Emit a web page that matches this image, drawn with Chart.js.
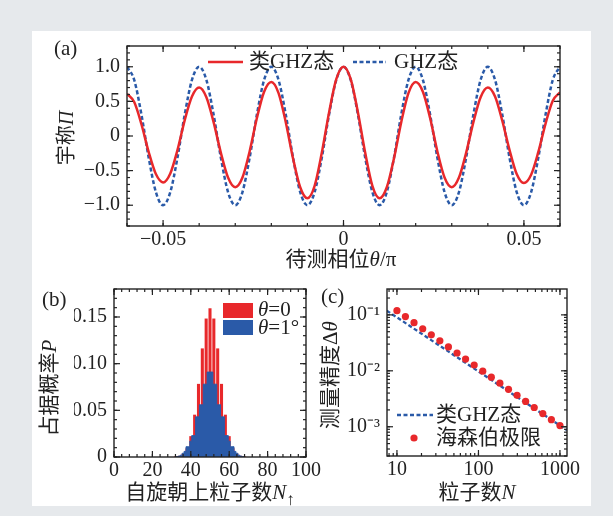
<!DOCTYPE html>
<html lang="zh">
<head>
<meta charset="UTF-8">
<title>宇称 / 占据概率 / 测量精度</title>
<script src="https://cdn.jsdelivr.net/npm/chart.js"></script>
<style>
  body { margin: 0; background: #e6e9ec; }
  .page { position: relative; width: 613px; height: 516px; background: #e6e9ec; overflow: hidden; }
  .panel { position: absolute; left: 32px; top: 31px; width: 559px; height: 475px; background: #fff; }
  canvas { position: absolute; left: 0; top: 0; }
</style>
</head>
<body>
<div class="page">
  <div class="panel"></div>
  <canvas id="chartA" width="613" height="516"></canvas>
  <canvas id="chartB" width="613" height="516"></canvas>
  <canvas id="chartC" width="613" height="516"></canvas>
</div>
<script>
// ---- (a) parity vs phase ----
const theta = [
  -0.060, -0.058, -0.056, -0.054, -0.052, -0.050, -0.048, -0.046, -0.044, -0.042,
  -0.040, -0.038, -0.036, -0.034, -0.032, -0.030, -0.028, -0.026, -0.024, -0.022,
  -0.020, -0.018, -0.016, -0.014, -0.012, -0.010, -0.008, -0.006, -0.004, -0.002,
   0.000,  0.002,  0.004,  0.006,  0.008,  0.010,  0.012,  0.014,  0.016,  0.018,
   0.020,  0.022,  0.024,  0.026,  0.028,  0.030,  0.032,  0.034,  0.036,  0.038,
   0.040,  0.042,  0.044,  0.046,  0.048,  0.050,  0.052,  0.054,  0.056,  0.058, 0.060];
const parityGhzLike = [
  0.61, 0.49, 0.17, -0.23, -0.55, -0.67, -0.54, -0.20, 0.23, 0.57,
  0.70, 0.56, 0.20, -0.24, -0.60, -0.74, -0.60, -0.22, 0.26, 0.64,
  0.78, 0.62, 0.20, -0.32, -0.74, -0.90, -0.72, -0.24, 0.34, 0.82,
  1.00, 0.82, 0.34, -0.24, -0.72, -0.90, -0.74, -0.32, 0.20, 0.62,
  0.78, 0.64, 0.26, -0.22, -0.60, -0.74, -0.60, -0.24, 0.20, 0.56,
  0.70, 0.57, 0.22, -0.20, -0.55, -0.68, -0.56, -0.23, 0.18, 0.51, 0.63];
const parityGhz = [
  1, 0.81, 0.31, -0.31, -0.81, -1, -0.81, -0.31, 0.31, 0.81,
  1, 0.81, 0.31, -0.31, -0.81, -1, -0.81, -0.31, 0.31, 0.81,
  1, 0.81, 0.31, -0.31, -0.81, -1, -0.81, -0.31, 0.31, 0.81,
  1, 0.81, 0.31, -0.31, -0.81, -1, -0.81, -0.31, 0.31, 0.81,
  1, 0.81, 0.31, -0.31, -0.81, -1, -0.81, -0.31, 0.31, 0.81,
  1, 0.81, 0.31, -0.31, -0.81, -1, -0.81, -0.31, 0.31, 0.81, 1];
const thetaTicks = [-0.05, 0, 0.05];
const parityTicks = [-1, -0.5, 0, 0.5, 1];

// ---- (b) occupation probability ----
const nUp = [32, 33, 34, 35, 36, 37, 38, 39, 40, 41, 42, 43, 44, 45, 46, 47, 48, 49, 50,
             51, 52, 53, 54, 55, 56, 57, 58, 59, 60, 61, 62, 63, 64, 65, 66, 67, 68];
const probTheta0 = [0.0002, 0, 0.0009, 0, 0.0032, 0, 0.009, 0, 0.022, 0, 0.045, 0, 0.078, 0, 0.116, 0, 0.148, 0, 0.159,
                    0, 0.148, 0, 0.116, 0, 0.078, 0, 0.045, 0, 0.022, 0, 0.009, 0, 0.0032, 0, 0.0009, 0, 0.0002];
const probTheta1 = [0, 0.0005, 0.001, 0.002, 0.004, 0.006, 0.011, 0.011, 0.017, 0.023, 0.023, 0.043, 0.043, 0.056, 0.056, 0.078, 0.078, 0.091, 0.091,
                    0.091, 0.078, 0.078, 0.056, 0.056, 0.043, 0.043, 0.023, 0.023, 0.017, 0.011, 0.011, 0.006, 0.004, 0.002, 0.001, 0.0005, 0];
const nUpTicks = [0, 20, 40, 60, 80, 100];
const probTicks = [0, 0.05, 0.10, 0.15];

// ---- (c) precision vs particle number ----
const particleN = [10, 12.7, 16.2, 20.7, 26.4, 33.6, 42.8, 54.6, 69.5, 88.6,
                   112.9, 143.8, 183.3, 233.6, 297.6, 379.3, 483.3, 615.8, 784.8, 1000];
const heisenberg = [0.119, 0.0931, 0.0725, 0.0565, 0.0440, 0.0343, 0.0267, 0.0208, 0.0162, 0.0127,
                    0.00987, 0.00769, 0.00600, 0.00467, 0.00364, 0.00284, 0.00221, 0.00172, 0.00134, 0.00105];
const ghzLikeN = [7.5, 1220];
const ghzLikeDelta = [0.119, 0.00087];
const nTicks = [10, 100, 1000];
const deltaTicks = [0.001, 0.01, 0.1];

const RED = '#e8282b';
const BLUE = '#2a5aa8';
const INK = '#222';
const SERIF = '"Liberation Serif", "Noto Sans CJK SC", serif';

Chart.defaults.font.family = SERIF;
Chart.defaults.color = INK;

function xy(xs, ys) { return xs.map((x, i) => ({ x: x, y: ys[i] })); }

// fixed axis sizes so the plot boxes land where they should
function fixW(w) { return s => { s.width = w; s.paddingTop = s.paddingBottom = s.paddingLeft = s.paddingRight = 0; }; }
function fixH(h) { return s => { s.height = h; s.paddingTop = s.paddingBottom = s.paddingLeft = s.paddingRight = 0; }; }
function setTicks(vals) { return s => { s.ticks = vals.map(v => ({ value: v })); }; }

function drawRich(ctx, segs, x, y, size, align, rot) {
  ctx.save();
  ctx.translate(x, y);
  if (rot) ctx.rotate(rot);
  ctx.textBaseline = 'middle';
  ctx.textAlign = 'left';
  ctx.fillStyle = INK;
  const fontOf = s => (s.it ? 'italic ' : '') + Math.round(size * (s.sc || 1)) + 'px ' + SERIF;
  let w = 0;
  segs.forEach(s => { ctx.font = fontOf(s); w += ctx.measureText(s.t).width; });
  let cx = align === 'center' ? -w / 2 : 0;
  segs.forEach(s => {
    ctx.font = fontOf(s);
    ctx.fillText(s.t, cx, s.dy || 0);
    cx += ctx.measureText(s.t).width;
  });
  ctx.restore();
}

function minorLinear(min, max, step) {
  const out = [];
  for (let v = Math.ceil(min / step - 1e-9) * step; v <= max + 1e-9; v += step) out.push(v);
  return out;
}
function minorLog(min, max) {
  const out = [];
  for (let d = Math.floor(Math.log10(min)); d <= Math.ceil(Math.log10(max)); d++) {
    for (let m = 1; m <= 9; m++) {
      const v = m * Math.pow(10, d);
      if (v >= min && v <= max) out.push(v);
    }
  }
  return out;
}

// box + inward ticks on all four sides, then the annotations
function framePlugin(spec) {
  return {
    id: 'frame',
    afterDraw(chart) {
      const ctx = chart.ctx, a = chart.chartArea;
      const sx = chart.scales.x, sy = chart.scales.y;
      ctx.save();
      ctx.strokeStyle = INK;
      ctx.lineWidth = 1.2;
      const seg = (x1, y1, x2, y2) => { ctx.beginPath(); ctx.moveTo(x1, y1); ctx.lineTo(x2, y2); ctx.stroke(); };
      const tx = (vals, len) => vals.forEach(v => {
        const p = sx.getPixelForValue(v);
        if (p < a.left - 0.5 || p > a.right + 0.5) return;
        seg(p, a.bottom, p, a.bottom - len); seg(p, a.top, p, a.top + len);
      });
      const ty = (vals, len) => vals.forEach(v => {
        const p = sy.getPixelForValue(v);
        if (p < a.top - 0.5 || p > a.bottom + 0.5) return;
        seg(a.left, p, a.left + len, p); seg(a.right, p, a.right - len, p);
      });
      tx(spec.xMinor, 3); tx(spec.xMajor, 6);
      ty(spec.yMinor, 3); ty(spec.yMajor, 6);
      ctx.lineWidth = 1.4;
      ctx.strokeRect(a.left, a.top, a.right - a.left, a.bottom - a.top);
      ctx.restore();
      spec.extra(ctx);
    }
  };
}

const baseOpts = {
  responsive: false,
  animation: false,
  events: [],
  plugins: { legend: { display: false }, tooltip: { enabled: false } }
};
const tickFont = { family: SERIF, size: 20 };

// ---------- (a) ----------
new Chart(document.getElementById('chartA'), {
  type: 'line',
  data: {
    datasets: [
      { label: 'GHZ态', data: xy(theta, parityGhz), borderColor: BLUE, borderWidth: 2.5,
        borderDash: [4, 2.5], pointRadius: 0, cubicInterpolationMode: 'monotone', order: 1 },
      { label: '类GHZ态', data: xy(theta, parityGhzLike), borderColor: RED, borderWidth: 2.5,
        pointRadius: 0, cubicInterpolationMode: 'monotone', order: 0 }
    ]
  },
  options: Object.assign({}, baseOpts, {
    layout: { padding: { left: 67, top: 46, right: 53, bottom: 250 } },
    scales: {
      x: { type: 'linear', min: -0.06, max: 0.06, afterFit: fixH(40), afterBuildTicks: setTicks(thetaTicks),
           grid: { display: false, drawTicks: false }, border: { display: false },
           ticks: { font: tickFont, padding: 2, autoSkip: false, maxRotation: 0,
                    callback: v => v === 0 ? '0' : (v < 0 ? '−' : '') + Math.abs(v).toFixed(2) } },
      y: { type: 'linear', min: -1.3, max: 1.3, afterFit: fixW(60), afterBuildTicks: setTicks(parityTicks),
           grid: { display: false, drawTicks: false }, border: { display: false },
           ticks: { font: tickFont, padding: 7, autoSkip: false,
                    callback: v => v === 0 ? '0' : (v < 0 ? '−' : '') + Math.abs(v).toFixed(1) } }
    }
  }),
  plugins: [framePlugin({
    xMajor: thetaTicks, xMinor: minorLinear(-0.06, 0.06, 0.01),
    yMajor: parityTicks, yMinor: minorLinear(-1.3, 1.3, 0.1),
    extra(ctx) {
      drawRich(ctx, [{ t: '(a)' }], 54, 49, 21, 'left');
      drawRich(ctx, [{ t: '宇称' }, { t: 'Π', it: true }], 68, 138, 20, 'center', -Math.PI / 2);
      drawRich(ctx, [{ t: '待测相位' }, { t: 'θ', it: true }, { t: '/π' }], 341, 260, 21, 'center');
      ctx.save();
      ctx.lineWidth = 2.5;
      ctx.strokeStyle = RED;
      ctx.beginPath(); ctx.moveTo(208, 62); ctx.lineTo(243, 62); ctx.stroke();
      ctx.strokeStyle = BLUE; ctx.setLineDash([4, 2.5]);
      ctx.beginPath(); ctx.moveTo(353, 62); ctx.lineTo(386, 62); ctx.stroke();
      ctx.restore();
      drawRich(ctx, [{ t: '类GHZ态' }], 249, 62, 21, 'left');
      drawRich(ctx, [{ t: 'GHZ态' }], 394, 62, 21, 'left');
    }
  })]
});

// ---------- (b) ----------
new Chart(document.getElementById('chartB'), {
  type: 'bar',
  data: {
    datasets: [
      { type: 'line', label: 'θ=1°', data: xy(nUp, probTheta1), stepped: 'middle', fill: 'origin',
        backgroundColor: BLUE, borderColor: BLUE, borderWidth: 1, pointRadius: 0, order: 0 },
      { type: 'bar', label: 'θ=0', data: xy(nUp, probTheta0), backgroundColor: RED,
        barThickness: 2.4, borderWidth: 0, order: 1 }
    ]
  },
  options: Object.assign({}, baseOpts, {
    layout: { padding: { left: 74, top: 289, right: 307, bottom: 29 } },
    scales: {
      x: { type: 'linear', min: 0, max: 100, offset: false, afterFit: fixH(30), afterBuildTicks: setTicks(nUpTicks),
           grid: { display: false, drawTicks: false }, border: { display: false },
           ticks: { font: tickFont, padding: 2, autoSkip: false, maxRotation: 0 } },
      y: { type: 'linear', min: 0, max: 0.18, afterFit: fixW(40), afterBuildTicks: setTicks(probTicks),
           grid: { display: false, drawTicks: false }, border: { display: false },
           ticks: { font: tickFont, padding: 7, autoSkip: false,
                    callback: v => v === 0 ? '0' : v.toFixed(2) } }
    }
  }),
  plugins: [framePlugin({
    xMajor: nUpTicks, xMinor: minorLinear(0, 100, 4),
    yMajor: probTicks, yMinor: minorLinear(0, 0.18, 0.01),
    extra(ctx) {
      drawRich(ctx, [{ t: '(b)' }], 42, 300, 21, 'left');
      drawRich(ctx, [{ t: '占据概率' }, { t: 'P', it: true }], 50, 388, 21, 'center', -Math.PI / 2);
      drawRich(ctx, [{ t: '自旋朝上粒子数' }, { t: 'N', it: true }, { t: '↑', sc: 0.8, dy: 8 }], 210, 493, 21, 'center');
      ctx.save();
      ctx.fillStyle = RED; ctx.fillRect(223, 303, 30, 15);
      ctx.fillStyle = BLUE; ctx.fillRect(223, 320, 30, 15);
      ctx.restore();
      drawRich(ctx, [{ t: 'θ', it: true }, { t: '=0' }], 258, 310, 21, 'left');
      drawRich(ctx, [{ t: 'θ', it: true }, { t: '=1°' }], 258, 328, 21, 'left');
    }
  })]
});

// ---------- (c) ----------
const supers = { 0.001: '10⁻³', 0.01: '10⁻²', 0.1: '10⁻¹' };
new Chart(document.getElementById('chartC'), {
  type: 'scatter',
  data: {
    datasets: [
      { label: '海森伯极限', data: xy(particleN, heisenberg), backgroundColor: RED, borderWidth: 0,
        pointRadius: 3.6, order: 0 },
      { type: 'line', label: '类GHZ态', data: xy(ghzLikeN, ghzLikeDelta), borderColor: BLUE, borderWidth: 2.3,
        borderDash: [4, 2.5], pointRadius: 0, showLine: true, order: 1 }
    ]
  },
  options: Object.assign({}, baseOpts, {
    layout: { padding: { left: 337, top: 289, right: 46, bottom: 30 } },
    scales: {
      x: { type: 'logarithmic', min: 7.55, max: 1220, afterFit: fixH(30), afterBuildTicks: setTicks(nTicks),
           grid: { display: false, drawTicks: false }, border: { display: false },
           ticks: { font: tickFont, padding: 2, autoSkip: false, maxRotation: 0, callback: v => String(v) } },
      y: { type: 'logarithmic', min: 0.0003, max: 0.29, afterFit: fixW(50), afterBuildTicks: setTicks(deltaTicks),
           grid: { display: false, drawTicks: false }, border: { display: false },
           ticks: { font: tickFont, padding: 7, autoSkip: false, callback: v => supers[v] || '' } }
    }
  }),
  plugins: [framePlugin({
    xMajor: nTicks, xMinor: minorLog(7.55, 1220),
    yMajor: deltaTicks, yMinor: minorLog(0.0003, 0.29),
    extra(ctx) {
      drawRich(ctx, [{ t: '(c)' }], 321, 297, 21, 'left');
      drawRich(ctx, [{ t: '测量精度Δ' }, { t: 'θ', it: true }], 331, 375, 21, 'center', -Math.PI / 2);
      drawRich(ctx, [{ t: '粒子数' }, { t: 'N', it: true }], 477, 493, 21, 'center');
      ctx.save();
      ctx.strokeStyle = BLUE; ctx.lineWidth = 2.3; ctx.setLineDash([4, 2.5]);
      ctx.beginPath(); ctx.moveTo(397, 415); ctx.lineTo(433, 415); ctx.stroke();
      ctx.fillStyle = RED;
      ctx.beginPath(); ctx.arc(414, 438, 3.6, 0, Math.PI * 2); ctx.fill();
      ctx.restore();
      drawRich(ctx, [{ t: '类GHZ态' }], 436, 415, 21, 'left');
      drawRich(ctx, [{ t: '海森伯极限' }], 436, 438, 21, 'left');
    }
  })]
});
</script>
</body>
</html>
